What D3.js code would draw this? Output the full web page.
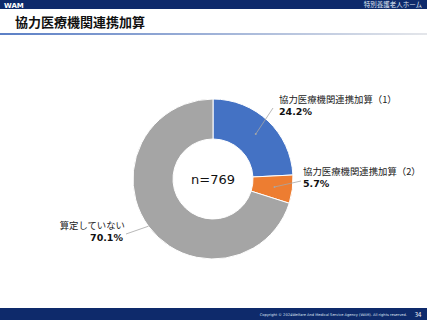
<!DOCTYPE html>
<html lang="ja">
<head>
<meta charset="UTF-8">
<title>協力医療機関連携加算</title>
<style>
    body { margin: 0; background: #fff; }
    svg { display: block; font-family: "Noto Sans CJK JP", "Noto Sans", sans-serif; }
    .lbl { font-size: 9.4px; fill: #222; }
    .pct { font-size: 9.5px; font-weight: bold; fill: #111; font-family: Verdana, "DejaVu Sans", sans-serif; }
</style>
</head>
<body>
<script src="https://cdn.jsdelivr.net/npm/d3@7/dist/d3.min.js"></script>
<script>
// data
let categories = ['協力医療機関連携加算（1）', '協力医療機関連携加算（2）', '算定していない'];
let values = [24.2, 5.7, 70.1];
let colors = ['#4472C4', '#ED7D31', '#A5A5A5'];
let total = 'n=769';

let width = 427, height = 320;
let svg = d3.select('body').append('svg')
    .attr('width', width)
    .attr('height', height);

// header
svg.append('rect').attr('x', 0).attr('y', 0).attr('width', width).attr('height', 9).attr('fill', '#0e2a6b');
svg.append('text').attr('x', 4).attr('y', 7.5).attr('fill', '#fff')
    .style('font-size', '7px').style('font-weight', 'bold').style('font-family', 'Verdana, "DejaVu Sans", sans-serif')
    .text('WAM');
svg.append('text').attr('x', 422).attr('y', 7.3).attr('fill', '#dfe6f3').attr('text-anchor', 'end')
    .style('font-size', '6.5px').text('特別養護老人ホーム');

svg.append('text').attr('x', 15).attr('y', 27).attr('fill', '#111')
    .style('font-size', '13px').style('font-weight', 'bold')
    .text('協力医療機関連携加算');

let grad = svg.append('defs').append('linearGradient').attr('id', 'hl');
grad.append('stop').attr('offset', '0%').attr('stop-color', '#5b7fc6');
grad.append('stop').attr('offset', '100%').attr('stop-color', '#e4e6ea');
svg.append('rect').attr('x', 0).attr('y', 33).attr('width', width).attr('height', 2).attr('fill', 'url(#hl)');

// footer
svg.append('rect').attr('x', 0).attr('y', 308).attr('width', width).attr('height', 12).attr('fill', '#0e2a6b');
svg.append('text').attr('x', 407).attr('y', 316).attr('fill', '#dfe6f3').attr('text-anchor', 'end')
    .style('font-size', '3.6px').style('font-family', '"DejaVu Sans", sans-serif')
    .text('Copyright © 2024Welfare And Medical Service Agency (WAM). All rights reserved.');
svg.append('text').attr('x', 418).attr('y', 316.5).attr('fill', '#fff').attr('text-anchor', 'middle')
    .style('font-size', '6px').text('34');

// donut
let cx = 213, cy = 179, rOuter = 80, rInner = 40;
let pie = d3.pie().sort(null);
let arc = d3.arc().innerRadius(rInner).outerRadius(rOuter);
let g = svg.append('g').attr('transform', `translate(${cx}, ${cy})`);

g.selectAll('path')
    .data(pie(values))
    .enter()
    .append('path')
    .attr('d', arc)
    .attr('fill', (d, i) => colors[i])
    .attr('stroke', '#fff')
    .attr('stroke-width', 1);

g.append('text').attr('text-anchor', 'middle').attr('y', 4.5)
    .style('font-size', '13px').style('font-family', 'Verdana, "DejaVu Sans", sans-serif').attr('fill', '#111')
    .text(total);

// labels: leader start radius, leader end point, text anchor point
let labelPos = [
    { r: 62, end: [273, 108], tx: 279, ty: 100, anchor: 'start' },
    { r: 62, end: [301, 181], tx: 303, ty: 172, anchor: 'start' },
    { r: 80, end: [126, 234], tx: 125, ty: 226, anchor: 'end' }
];

pie(values).forEach((d, i) => {
    let p = labelPos[i];
    let a = (d.startAngle + d.endAngle) / 2;
    let sx = cx + Math.sin(a) * p.r, sy = cy - Math.cos(a) * p.r;
    svg.append('line')
        .attr('x1', sx).attr('y1', sy)
        .attr('x2', p.end[0]).attr('y2', p.end[1])
        .attr('stroke', '#a6a6a6').attr('stroke-width', 0.8);
    if (i < 2) {
        svg.append('circle').attr('cx', sx).attr('cy', sy).attr('r', 1).attr('fill', '#a6a6a6');
    }
    svg.append('text').attr('class', 'lbl').attr('x', p.tx).attr('y', p.ty + 3.3)
        .attr('text-anchor', p.anchor).text(categories[i]);
    svg.append('text').attr('class', 'pct').attr('x', i < 2 ? p.tx : p.tx - 2).attr('y', p.ty + 14.8)
        .attr('text-anchor', p.anchor).text(d.data.toFixed(1) + '%');
});
</script>
</body>
</html>
